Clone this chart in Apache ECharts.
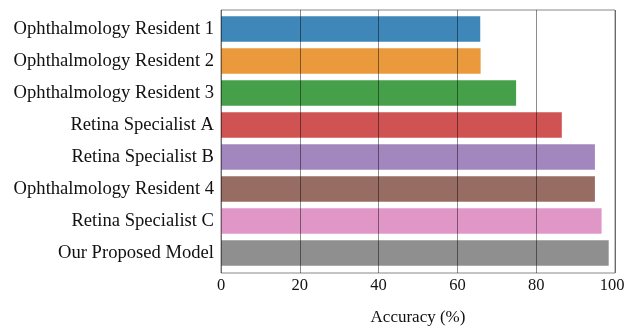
<!DOCTYPE html>
<html><head><meta charset="utf-8">
<script src="https://cdn.jsdelivr.net/npm/echarts@6/dist/echarts.min.js"></script>
<style>html,body{margin:0;padding:0;background:#fff}#c{width:625px;height:326px}</style>
</head><body><div id="c"></div>
<script>
const categories = ["Ophthalmology Resident 1","Ophthalmology Resident 2","Ophthalmology Resident 3","Retina Specialist A","Retina Specialist B","Ophthalmology Resident 4","Retina Specialist C","Our Proposed Model"];
const values = [65.8, 65.9, 74.9, 86.5, 94.9, 94.9, 96.6, 98.4];
const colors = ["#3f87b9","#ea993d","#46a049","#cf5352","#a287bf","#976c63","#e097c8","#8f8f8f"];
const xTicks = [0, 20, 40, 60, 80, 100];

const font = "Liberation Serif";
const tickStyle = {color: '#111', fontFamily: font, fontSize: 16.5};
const chart = echarts.init(document.getElementById('c'), null, {renderer: 'canvas'});
chart.setOption({
  animation: false,
  backgroundColor: '#fff',
  grid: [
    {left: 221, top: 10, width: 394, height: 263, show: true, borderColor: '#888', borderWidth: 1,
     backgroundColor: 'transparent', containLabel: false, outerBoundsMode: 'none'},
    {left: 221, top: 13, width: 394, height: 256, containLabel: false, outerBoundsMode: 'none'}
  ],
  xAxis: [
    {type: 'value', gridIndex: 0, min: xTicks[0], max: xTicks[xTicks.length-1], interval: 20, z: 10,
     axisLine: {show: false}, axisTick: {show: false},
     axisLabel: Object.assign({}, tickStyle, {margin: 4,
       formatter: v => v === xTicks[xTicks.length-1] ? '{e|' + v + '}' : '{n|' + v + '}',
       rich: {n: Object.assign({}, tickStyle), e: Object.assign({}, tickStyle, {padding: [0, 6, 0, 0]})}}),
     splitLine: {show: true, lineStyle: {color: 'rgba(0,0,0,0.45)', width: 1}},
     name: 'Accuracy (%)', nameLocation: 'middle', nameGap: 36,
     nameTextStyle: {color: '#111', fontFamily: font, fontSize: 17}},
    {type: 'value', gridIndex: 1, min: xTicks[0], max: xTicks[xTicks.length-1], show: false}
  ],
  yAxis: [
    {type: 'value', gridIndex: 0, show: false, min: 0, max: 1},
    {type: 'category', gridIndex: 1, data: categories, inverse: true,
     axisLine: {show: false}, axisTick: {show: false},
     axisLabel: {color: '#111', fontFamily: font, fontSize: 18.6, margin: 7}}
  ],
  series: [{
    type: 'bar', xAxisIndex: 1, yAxisIndex: 1,
    barCategoryGap: '20%',
    data: values.map((v, i) => ({value: v, itemStyle: {color: colors[i]}})),
    z: 2
  }]
});
</script></body></html>
